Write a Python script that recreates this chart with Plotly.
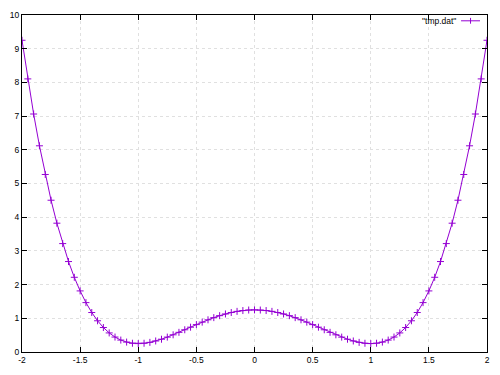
import plotly.graph_objects as go

x_vals = [-2.00, -1.95, -1.90, -1.85, -1.80, -1.75, -1.70, -1.65, -1.60, -1.55,
          -1.50, -1.45, -1.40, -1.35, -1.30, -1.25, -1.20, -1.15, -1.10, -1.05,
          -1.00, -0.95, -0.90, -0.85, -0.80, -0.75, -0.70, -0.65, -0.60, -0.55,
          -0.50, -0.45, -0.40, -0.35, -0.30, -0.25, -0.20, -0.15, -0.10, -0.05,
          0.00, 0.05, 0.10, 0.15, 0.20, 0.25, 0.30, 0.35, 0.40, 0.45,
          0.50, 0.55, 0.60, 0.65, 0.70, 0.75, 0.80, 0.85, 0.90, 0.95,
          1.00, 1.05, 1.10, 1.15, 1.20, 1.25, 1.30, 1.35, 1.40, 1.45,
          1.50, 1.55, 1.60, 1.65, 1.70, 1.75, 1.80, 1.85, 1.90, 1.95, 2.00]

y_vals = [9.2500, 8.1040, 7.0621, 6.1185, 5.2676, 4.5039, 3.8221, 3.2170, 2.6836, 2.2170,
          1.8125, 1.4655, 1.1716, 0.9265, 0.7261, 0.5664, 0.4436, 0.3540, 0.2941, 0.2605,
          0.2500, 0.2595, 0.2861, 0.3270, 0.3796, 0.4414, 0.5101, 0.5835, 0.6596, 0.7365,
          0.8125, 0.8860, 0.9556, 1.0200, 1.0781, 1.1289, 1.1716, 1.2055, 1.2301, 1.2450,
          1.2500, 1.2450, 1.2301, 1.2055, 1.1716, 1.1289, 1.0781, 1.0200, 0.9556, 0.8860,
          0.8125, 0.7365, 0.6596, 0.5835, 0.5101, 0.4414, 0.3796, 0.3270, 0.2861, 0.2595,
          0.2500, 0.2605, 0.2941, 0.3540, 0.4436, 0.5664, 0.7261, 0.9265, 1.1716, 1.4655,
          1.8125, 2.2170, 2.6836, 3.2170, 3.8221, 4.5039, 5.2676, 6.1185, 7.0621, 8.1040, 9.2500]

x_ticks = [-2, -1.5, -1, -0.5, 0, 0.5, 1, 1.5, 2]
x_tick_text = ["-2", "-1.5", "-1", "-0.5", "0", "0.5", "1", "1.5", "2"]
y_ticks = [0, 1, 2, 3, 4, 5, 6, 7, 8, 9, 10]
series_name = '"tmp.dat"'

COLOR = "#9400D3"
W, H = 500, 375
L, R, T, B = 22, 12, 10, 17
pw, ph = W - L - R, H - T - B
FONT = "Liberation Sans, Arial, sans-serif"

fig = go.Figure()
fig.add_trace(go.Scatter(
    x=x_vals, y=y_vals, mode="lines+markers",
    line=dict(color=COLOR, width=1),
    marker=dict(symbol="cross-thin", size=5, line=dict(color=COLOR, width=1), color=COLOR),
    showlegend=False, name=series_name,
))

axis_common = dict(
    showline=True, linecolor="black", linewidth=1, mirror="allticks",
    ticks="inside", ticklen=5, tickcolor="black", tickwidth=1,
    showgrid=True, gridcolor="#e0e0e0", griddash="dot", gridwidth=1,
    zeroline=False,
    tickfont=dict(family=FONT, size=8.5, color="black"),
)

fig.update_xaxes(range=[-2, 2], tickvals=x_ticks, ticktext=x_tick_text, **axis_common)
fig.update_yaxes(range=[0, 10], tickvals=y_ticks, **axis_common)

def px2paper_x(px):
    return (px - L) / pw

def px2paper_y(py):
    return 1 - (py - T) / ph

ly = 16
fig.add_annotation(x=px2paper_x(459), y=px2paper_y(ly), xref="paper", yref="paper",
                   text=series_name, showarrow=False, xanchor="right", yanchor="middle",
                   font=dict(family=FONT, size=8.5, color="black"))
fig.add_shape(type="line", xref="paper", yref="paper",
              x0=px2paper_x(462), x1=px2paper_x(481), y0=px2paper_y(ly), y1=px2paper_y(ly),
              line=dict(color=COLOR, width=1))
fig.add_shape(type="line", xref="paper", yref="paper",
              x0=px2paper_x(471.5), x1=px2paper_x(471.5), y0=px2paper_y(ly - 3), y1=px2paper_y(ly + 3),
              line=dict(color=COLOR, width=1))

fig.update_layout(
    width=W, height=H,
    margin=dict(l=L, r=R, t=T, b=B, pad=0),
    plot_bgcolor="white", paper_bgcolor="white",
    showlegend=False,
)

fig.write_html("out.html")
